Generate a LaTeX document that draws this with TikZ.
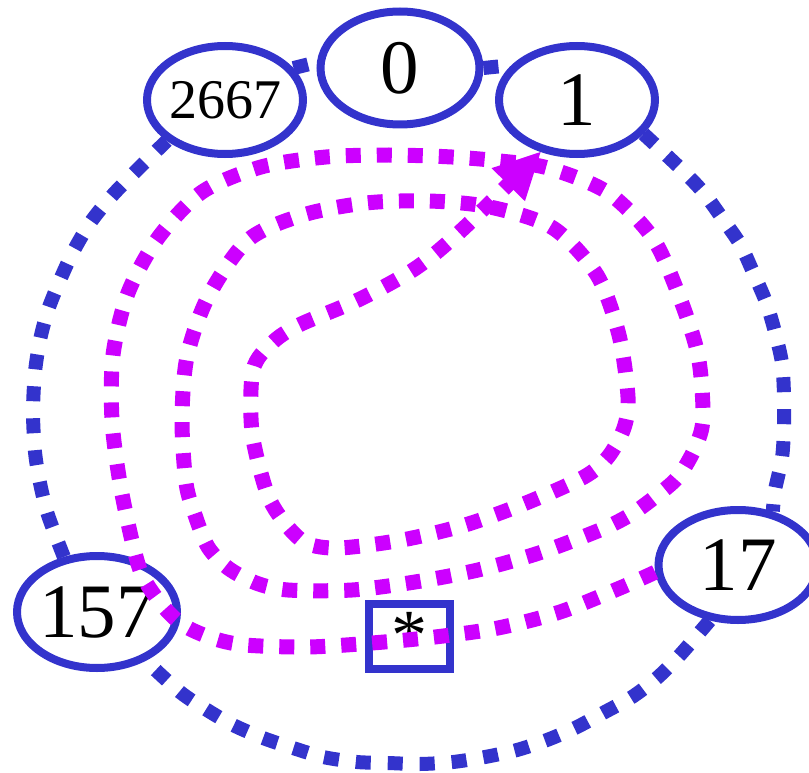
\documentclass[tikz,border=0pt]{standalone}
\usepackage{fontspec}
\setmainfont{Liberation Serif}
\usetikzlibrary{shapes.geometric,arrows.meta}
\definecolor{gvblue}{RGB}{51,51,204}
\definecolor{gvmag}{RGB}{204,0,255}
\begin{document}
\begin{tikzpicture}[x=1pt,y=-1pt,
  nodeell/.style={ellipse, draw=gvblue, line width=8pt, inner sep=-12pt, font=\fontsize{77}{77}\selectfont},
  starbox/.style={rectangle, draw=gvblue, line width=8pt, inner sep=0pt, minimum width=81pt, minimum height=65pt, font=\fontsize{72}{72}\selectfont},
  blueedge/.style={draw=gvblue, line width=14pt, dash pattern=on 15pt off 17pt},
  magedge/.style={draw=gvmag, line width=15pt, dash pattern=on 15pt off 16pt, -{Triangle[length=46pt,width=47pt,line width=0pt]}}]
\useasboundingbox (0,0) rectangle (809,773);
\node[nodeell, minimum width=159pt, minimum height=113pt] (n0) at (400,68) {0};
\node[nodeell, minimum width=156pt, minimum height=108pt, font=\fontsize{56}{56}\selectfont] (n2667) at (225,100) {2667};
\node[nodeell, minimum width=156pt, minimum height=108pt] (n1) at (577,100) {1};
\node[nodeell, minimum width=160pt, minimum height=112pt] (n157) at (97,612) {157};
\node[nodeell, minimum width=159pt, minimum height=110pt] (n17) at (738,565) {17};
\node[starbox] (nstar) at (409,636) {*};
% blue connectors
\draw[blueedge] (n2667.25) -- (n0.176);
\draw[blueedge] (n0.east) -- (n1.152);
\draw[blueedge] plot[smooth] coordinates {(n1.-27) (680,168) (703,192) (722,218) (740,244) (753,272) (766,302) (775,332) (782,363) (784,395) (784,427) (782,458) (775,490) (n17.57)};
\draw[blueedge] plot[smooth] coordinates {(n17.-117) (680,655) (657,678) (632,697) (603,713) (575,728) (547,740) (517,750) (485,757) (453,762) (420,764) (388,763) (357,762) (323,757) (293,748) (263,738) (233,725) (207,710) (180,692) (n157.-45)};
\draw[blueedge] plot[smooth] coordinates {(n157.121) (48,515) (40,483) (35,452) (33,412) (35,372) (40,340) (48,310) (60,280) (73,252) (90,223) (110,198) (132,175) (n2667.215)};
% magenta spiral
\draw[magedge] plot[smooth] coordinates {(n17.185) (620,588) (560,612) (498,628) (435,637) (372,643) (308,647) (245,645) (212,638) (183,625) (162,605) (143,577) (133,545) (120,483) (112,420) (113,355) (128,293) (158,238) (202,192) (261,167) (326,157) (389,155) (452,157) (500,161) (548,168) (607,192) (652,237) (678,293) (698,355) (703,418) (695,448) (678,477) (655,497) (630,515) (600,530) (539,553) (478,570) (415,582) (352,590) (288,590) (256,583) (228,568) (208,547) (195,515) (186,483) (182,420) (187,357) (208,297) (248,240) (303,215) (366,203) (429,201) (490,207) (553,228) (597,275) (619,335) (628,397) (624,428) (608,457) (584,477) (526,503) (465,525) (402,540) (339,548) (306,543) (284,522) (267,493) (252,432) (253,370) (272,343) (299,325) (358,300) (416,268) (464,228) (n1.-125)};
\end{tikzpicture}
\end{document}
